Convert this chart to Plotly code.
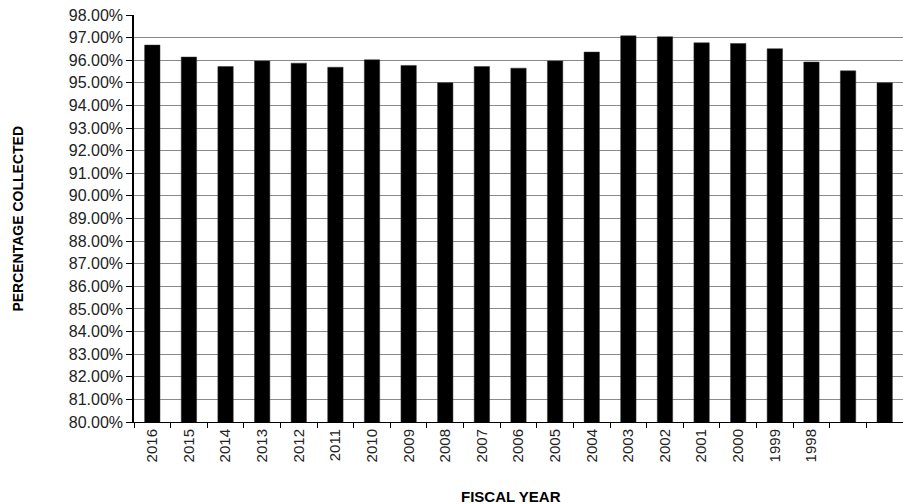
import plotly.graph_objects as go

fiscal_years = ["2016", "2015", "2014", "2013", "2012", "2011", "2010", "2009", "2008", "2007",
                "2006", "2005", "2004", "2003", "2002", "2001", "2000", "1999", "1998", " ", "  "]
pct_collected = [96.67, 96.14, 95.72, 95.97, 95.87, 95.69, 96.02, 95.77, 95.00, 95.72,
                 95.65, 95.97, 96.36, 97.08, 97.04, 96.77, 96.74, 96.51, 95.92, 95.53, 95.00]
y_ticks = list(range(80, 99))
y_tick_text = [f"{v:.2f}%" for v in y_ticks]

FONT = "Liberation Sans, Arial, sans-serif"

fig = go.Figure(go.Bar(
    x=fiscal_years, y=pct_collected,
    marker=dict(color="black", line=dict(color="#333333", width=0.5)),
    width=0.42,
))

fig.update_layout(
    width=903, height=504,
    margin=dict(l=134, r=0, t=15, b=82),
    plot_bgcolor="white", paper_bgcolor="white",
    showlegend=False,
    font=dict(family=FONT, color="black"),
    annotations=[
        dict(text="<b>PERCENTAGE COLLECTED</b>", xref="paper", yref="paper",
             x=-0.152, y=0.5, textangle=-90, showarrow=False,
             font=dict(size=14, family=FONT, color="black"), xanchor="center", yanchor="middle"),
        dict(text="<b>FISCAL YEAR</b>", xref="paper", yref="paper",
             x=0.49, y=-0.184, showarrow=False,
             font=dict(size=15, family=FONT, color="black"), xanchor="center", yanchor="middle"),
    ],
)
fig.update_xaxes(
    type="category", tickson="boundaries", ticks="outside", ticklen=5, tickcolor="black",
    tickangle=-90, tickfont=dict(size=15, family=FONT, color="#222"),
    showline=True, linecolor="black", linewidth=1, showgrid=False,
    range=[-0.5, len(fiscal_years) - 0.5],
)
fig.update_yaxes(
    range=[80, 98], tickmode="array", tickvals=y_ticks, ticktext=y_tick_text,
    ticks="outside", ticklen=6, tickcolor="black",
    tickfont=dict(size=16, family=FONT, color="#222"),
    showline=True, linecolor="black", linewidth=1.5,
    showgrid=True, gridcolor="#8a8a8a", gridwidth=1, zeroline=False,
)

fig.write_html("out.html", config={"displayModeBar": False},
               post_script="document.body.style.margin='0px';")
